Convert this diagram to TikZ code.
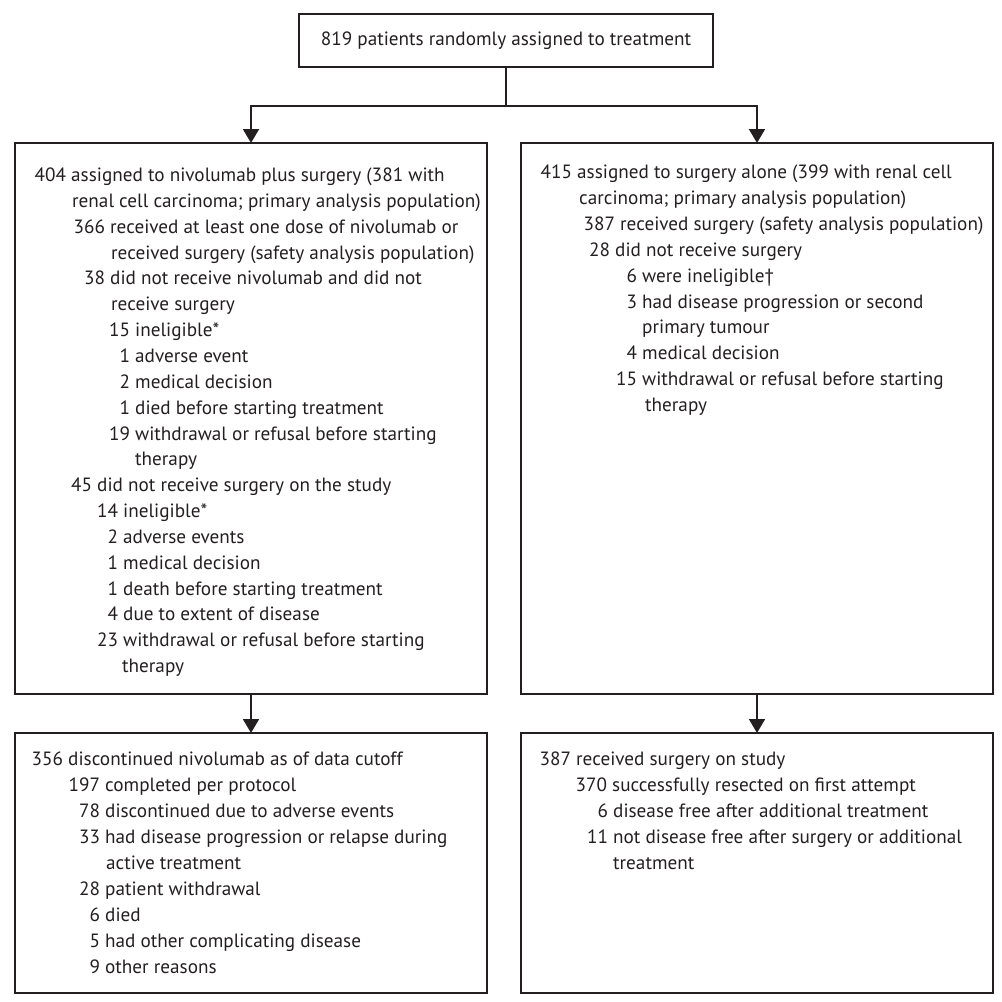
\documentclass[tikz,border=0pt]{standalone}
\usepackage{fontspec}
\setmainfont{PT Sans}
\usetikzlibrary{positioning,arrows.meta}
\definecolor{ink}{HTML}{231F20}
\newcommand{\nlab}[1]{\llap{#1\ }}
\tikzset{
    box/.style={draw=ink, line width=1.8pt, rectangle, inner sep=0pt, outer sep=0pt},
    txtline/.style={anchor=base west, inner sep=0pt, text=ink, font=\fontsize{19.2}{26}\selectfont},
    arr/.style={draw=ink, line width=1.8pt, -{Triangle[width=16pt,length=14pt]}}
}

\begin{document}
\begin{tikzpicture}[x=1pt,y=-1pt]
\useasboundingbox (0,0) rectangle (1002,1002);

% Randomisation
\node[box,
    minimum width=414pt,
    minimum height=53pt,
    text=ink,
    font=\fontsize{19.2}{26}\selectfont] (random) at (506,40.5) {819 patients randomly assigned to treatment};

\node[coordinate, below=39pt of random] (split) {};

% Nivolumab plus surgery arm
\node[box,
    minimum width=472pt,
    minimum height=551pt] (nivo) at (251,418.5) {};

% Surgery alone arm
\node[box,
    right=34pt of nivo,
    minimum width=472pt,
    minimum height=551pt] (surg) {};

% Nivolumab follow-up
\node[box,
    below=39pt of nivo,
    minimum width=472pt,
    minimum height=260pt] (nivoend) {};

% Surgery follow-up
\node[box,
    below=39pt of surg,
    minimum width=472pt,
    minimum height=260pt] (surgend) {};

% Nivolumab plus surgery text
\node[txtline] (n1) at (71,181) {\nlab{404}assigned to nivolumab plus surgery (381 with};
\node[txtline] (n2) at (72,207) {renal cell carcinoma; primary analysis population)};
\node[txtline] (n3) at (110,233) {\nlab{366}received at least one dose of nivolumab or};
\node[txtline] (n4) at (111,259) {received surgery (safety analysis population)};
\node[txtline] (n5) at (110,284) {\nlab{38}did not receive nivolumab and did not};
\node[txtline] (n6) at (111,310) {receive surgery};
\node[txtline] (n7) at (135,336) {\nlab{15}ineligible*};
\node[txtline] (n8) at (135,362) {\nlab{1}adverse event};
\node[txtline] (n9) at (135,388) {\nlab{2}medical decision};
\node[txtline] (n10) at (135,414) {\nlab{1}died before starting treatment};
\node[txtline] (n11) at (135,440) {\nlab{19}withdrawal or refusal before starting};
\node[txtline] (n12) at (135,465) {therapy};
\node[txtline] (n13) at (97,491) {\nlab{45}did not receive surgery on the study};
\node[txtline] (n14) at (123,517) {\nlab{14}ineligible*};
\node[txtline] (n15) at (123,543) {\nlab{2}adverse events};
\node[txtline] (n16) at (123,569) {\nlab{1}medical decision};
\node[txtline] (n17) at (123,595) {\nlab{1}death before starting treatment};
\node[txtline] (n18) at (123,620) {\nlab{4}due to extent of disease};
\node[txtline] (n19) at (123,646) {\nlab{23}withdrawal or refusal before starting};
\node[txtline] (n20) at (122,672) {therapy};

% Surgery alone text
\node[txtline] (s1) at (577,178) {\nlab{415}assigned to surgery alone (399 with renal cell};
\node[txtline] (s2) at (579,204) {carcinoma; primary analysis population)};
\node[txtline] (s3) at (620,230) {\nlab{387}received surgery (safety analysis population)};
\node[txtline] (s4) at (615,256) {\nlab{28}did not receive surgery};
\node[txtline] (s5) at (642,282) {\nlab{6}were ineligible†};
\node[txtline] (s6) at (642,308) {\nlab{3}had disease progression or second};
\node[txtline] (s7) at (642,333) {primary tumour};
\node[txtline] (s8) at (642,359) {\nlab{4}medical decision};
\node[txtline] (s9) at (642,385) {\nlab{15}withdrawal or refusal before starting};
\node[txtline] (s10) at (645,411) {therapy};

% Nivolumab follow-up text
\node[txtline] (d1) at (68,765) {\nlab{356}discontinued nivolumab as of data cutoff};
\node[txtline] (d2) at (105,791) {\nlab{197}completed per protocol};
\node[txtline] (d3) at (105,817) {\nlab{78}discontinued due to adverse events};
\node[txtline] (d4) at (105,843) {\nlab{33}had disease progression or relapse during};
\node[txtline] (d5) at (106,869) {active treatment};
\node[txtline] (d6) at (105,895) {\nlab{28}patient withdrawal};
\node[txtline] (d7) at (105,921) {\nlab{6}died};
\node[txtline] (d8) at (105,947) {\nlab{5}had other complicating disease};
\node[txtline] (d9) at (105,973) {\nlab{9}other reasons};

% Surgery follow-up text
\node[txtline] (r1) at (576,765) {\nlab{387}received surgery on study};
\node[txtline] (r2) at (612,791) {\nlab{370}successfully resected on first attempt};
\node[txtline] (r3) at (613,817) {\nlab{6}disease free after additional treatment};
\node[txtline] (r4) at (613,843) {\nlab{11}not disease free after surgery or additional};
\node[txtline] (r5) at (613,869) {treatment};

% Arrows
\draw[draw=ink, line width=1.8pt] (random) -- (split);
\draw[arr] (split) -| (nivo);
\draw[arr] (split) -| (surg);
\draw[arr] (nivo) -- (nivoend);
\draw[arr] (surg) -- (surgend);

\end{tikzpicture}
\end{document}
